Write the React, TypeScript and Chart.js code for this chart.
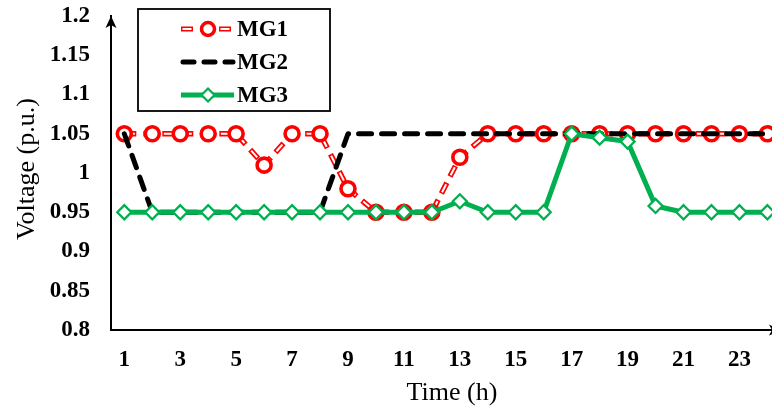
import React, { useEffect, useRef } from "react";
import { Chart, registerables } from "chart.js";

Chart.register(...registerables);

const hours = [1, 2, 3, 4, 5, 6, 7, 8, 9, 10, 11, 12, 13, 14, 15, 16, 17, 18, 19, 20, 21, 22, 23, 24];
const mg1 = [1.05, 1.05, 1.05, 1.05, 1.05, 1.01, 1.05, 1.05, 0.98, 0.95, 0.95, 0.95, 1.02, 1.05, 1.05, 1.05, 1.05, 1.05, 1.05, 1.05, 1.05, 1.05, 1.05, 1.05];
const mg2 = [1.05, 0.95, 0.95, 0.95, 0.95, 0.95, 0.95, 0.95, 1.05, 1.05, 1.05, 1.05, 1.05, 1.05, 1.05, 1.05, 1.05, 1.05, 1.05, 1.05, 1.05, 1.05, 1.05, 1.05];
const mg3 = [0.95, 0.95, 0.95, 0.95, 0.95, 0.95, 0.95, 0.95, 0.95, 0.95, 0.95, 0.95, 0.964, 0.95, 0.95, 0.95, 1.05, 1.045, 1.04, 0.958, 0.95, 0.95, 0.95, 0.95];
const seriesNames = ["MG1", "MG2", "MG3"];
const xTickValues = [1, 3, 5, 7, 9, 11, 13, 15, 17, 19, 21, 23];
const yTickValues = [0.8, 0.85, 0.9, 0.95, 1, 1.05, 1.1, 1.15, 1.2];
const yTickLabels = ["0.8", "0.85", "0.9", "0.95", "1", "1.05", "1.1", "1.15", "1.2"];
const xTitle = "Time (h)";
const yTitle = "Voltage (p.u.)";

const RED = "#FF0000";
const GREEN = "#00B050";
const SERIF = "'Liberation Serif', 'Times New Roman', serif";

const toPoints = (vals: number[]) => hours.map((h, i) => ({ x: h, y: vals[i] }));

const overlay = {
  id: "overlay",
  afterDraw(chart: any) {
    const ctx = chart.ctx as CanvasRenderingContext2D;
    const { left, top, right, bottom } = chart.chartArea;
    ctx.save();
    // arrows
    ctx.fillStyle = "#000";
    ctx.beginPath();
    ctx.moveTo(left, top);
    ctx.lineTo(left - 5.5, top + 12);
    ctx.lineTo(left, top + 9);
    ctx.lineTo(left + 5.5, top + 12);
    ctx.closePath();
    ctx.fill();
    ctx.beginPath();
    ctx.moveTo(right + 9, bottom);
    ctx.lineTo(right - 3, bottom - 5.5);
    ctx.lineTo(right, bottom);
    ctx.lineTo(right - 3, bottom + 5.5);
    ctx.closePath();
    ctx.fill();

    // axis titles
    ctx.fillStyle = "#000";
    ctx.font = `26px ${SERIF}`;
    ctx.textAlign = "center";
    ctx.textBaseline = "middle";
    ctx.fillText(xTitle, 452, 393);
    ctx.save();
    ctx.translate(27, 169);
    ctx.rotate(-Math.PI / 2);
    ctx.fillText(yTitle, 0, 0);
    ctx.restore();

    // legend
    const bx = 138, by = 9, bw = 192, bh = 102;
    ctx.fillStyle = "#fff";
    ctx.fillRect(bx, by, bw, bh);
    ctx.strokeStyle = "#000";
    ctx.lineWidth = 1.8;
    ctx.strokeRect(bx, by, bw, bh);
    const rows = [29, 62, 95];
    const x0 = 183, x1 = 233, xm = 208;
    // MG1
    let y = rows[0];
    ctx.lineCap = "butt";
    ctx.strokeStyle = RED;
    ctx.lineWidth = 5;
    ctx.setLineDash([12, 7]);
    ctx.lineDashOffset = 0;
    ctx.beginPath(); ctx.moveTo(x0 - 2, y); ctx.lineTo(x1 + 2, y); ctx.stroke();
    ctx.strokeStyle = "#fff";
    ctx.lineWidth = 1.8;
    ctx.setLineDash([9, 10]);
    ctx.lineDashOffset = -1.5;
    ctx.beginPath(); ctx.moveTo(x0 - 2, y); ctx.lineTo(x1 + 2, y); ctx.stroke();
    ctx.setLineDash([]);
    ctx.lineDashOffset = 0;
    ctx.beginPath(); ctx.arc(xm, y, 6.5, 0, Math.PI * 2);
    ctx.fillStyle = "#fff"; ctx.fill();
    ctx.strokeStyle = RED; ctx.lineWidth = 3.5; ctx.stroke();
    // MG2
    y = rows[1];
    ctx.strokeStyle = "#000";
    ctx.lineWidth = 5;
    ctx.lineCap = "round";
    ctx.setLineDash([11, 10]);
    ctx.beginPath(); ctx.moveTo(x0, y); ctx.lineTo(x1, y); ctx.stroke();
    ctx.setLineDash([]);
    // MG3
    y = rows[2];
    ctx.lineCap = "butt";
    ctx.strokeStyle = GREEN;
    ctx.lineWidth = 5;
    ctx.beginPath(); ctx.moveTo(x0 - 2, y); ctx.lineTo(x1 + 1, y); ctx.stroke();
    ctx.beginPath();
    ctx.moveTo(xm, y - 6.5); ctx.lineTo(xm + 6.5, y); ctx.lineTo(xm, y + 6.5); ctx.lineTo(xm - 6.5, y); ctx.closePath();
    ctx.fillStyle = "#fff"; ctx.fill();
    ctx.lineWidth = 2.2; ctx.stroke();
    // texts
    ctx.fillStyle = "#000";
    ctx.font = `bold 23px ${SERIF}`;
    ctx.textAlign = "left";
    ctx.textBaseline = "middle";
    seriesNames.forEach((n, i) => ctx.fillText(n, 237, rows[i] + 1));
    ctx.restore();
  },
};

export default function App() {
  const ref = useRef<HTMLCanvasElement | null>(null);
  useEffect(() => {
    if (!ref.current) return;
    const chart = new Chart(ref.current, {
      type: "line",
      data: {
        datasets: [
          {
            label: seriesNames[2],
            data: toPoints(mg3),
            borderColor: GREEN,
            borderWidth: 5,
            backgroundColor: "#fff",
            pointStyle: "rectRot",
            pointRadius: 7,
            pointBorderWidth: 2.3,
            pointBackgroundColor: "#fff",
            pointBorderColor: GREEN,
            tension: 0,
            borderJoinStyle: "round",
            order: 0,
          },
          {
            label: seriesNames[1],
            data: toPoints(mg2),
            borderColor: "#000",
            borderWidth: 5,
            borderDash: [13, 10],
            borderCapStyle: "round",
            borderJoinStyle: "round",
            pointRadius: 0,
            tension: 0,
            order: 1,
          },
          {
            label: seriesNames[0],
            data: toPoints(mg1),
            showLine: false,
            pointStyle: "circle",
            pointRadius: 7,
            pointBorderWidth: 3.6,
            pointBackgroundColor: "#fff",
            pointBorderColor: RED,
            borderColor: RED,
            order: 2,
          },
          {
            label: seriesNames[0] + " inner",
            data: toPoints(mg1),
            borderColor: "#fff",
            borderWidth: 2,
            borderDash: [9, 10],
            borderDashOffset: -1.5,
            pointRadius: 0,
            tension: 0,
            order: 3,
          },
          {
            label: seriesNames[0] + " line",
            data: toPoints(mg1),
            borderColor: RED,
            borderWidth: 5.5,
            borderDash: [12, 7],
            pointRadius: 0,
            tension: 0,
            order: 4,
          },
        ],
      },
      options: {
        animation: false,
        responsive: false,
        devicePixelRatio: 1,
        layout: { autoPadding: false, padding: { top: 16, right: 0, left: 0, bottom: 0 } },
        plugins: { legend: { display: false }, tooltip: { enabled: false } },
        scales: {
          x: {
            type: "linear",
            min: 0.524,
            max: 24.165,
            grid: { display: false, drawTicks: false },
            border: { display: true, color: "#000", width: 2 },
            afterBuildTicks: (scale: any) => {
              scale.ticks = xTickValues.map((v) => ({ value: v }));
            },
            afterFit: (scale: any) => {
              scale.height = 79;
              scale.paddingLeft = 0;
              scale.paddingRight = 0;
              scale.paddingTop = 0;
              scale.paddingBottom = 0;
            },
            ticks: {
              autoSkip: false,
              maxRotation: 0,
              padding: 16,
              color: "#000",
              font: { family: SERIF, size: 23, weight: "bold" },
              callback: (v: any) => String(v),
            },
          },
          y: {
            type: "linear",
            min: 0.8,
            max: 1.2,
            grid: { display: false, drawTicks: false },
            border: { display: true, color: "#000", width: 2 },
            afterBuildTicks: (scale: any) => {
              scale.ticks = yTickValues.map((v) => ({ value: v }));
            },
            afterFit: (scale: any) => {
              scale.width = 111;
              scale.paddingLeft = 0;
              scale.paddingRight = 0;
              scale.paddingTop = 0;
              scale.paddingBottom = 0;
            },
            ticks: {
              padding: 21,
              color: "#000",
              font: { family: SERIF, size: 23, weight: "bold" },
              callback: (v: any) => {
                const i = yTickValues.findIndex((t) => Math.abs(t - v) < 1e-6);
                return i >= 0 ? yTickLabels[i] : "";
              },
            },
          },
        },
      },
      plugins: [overlay],
    } as any);
    return () => chart.destroy();
  }, []);
  return (
    <div style={{ position: "fixed", left: 0, top: 0, width: 772, height: 409, background: "#fff", overflow: "hidden" }}>
      <canvas ref={ref} width={772} height={409} style={{ display: "block" }} />
    </div>
  );
}
